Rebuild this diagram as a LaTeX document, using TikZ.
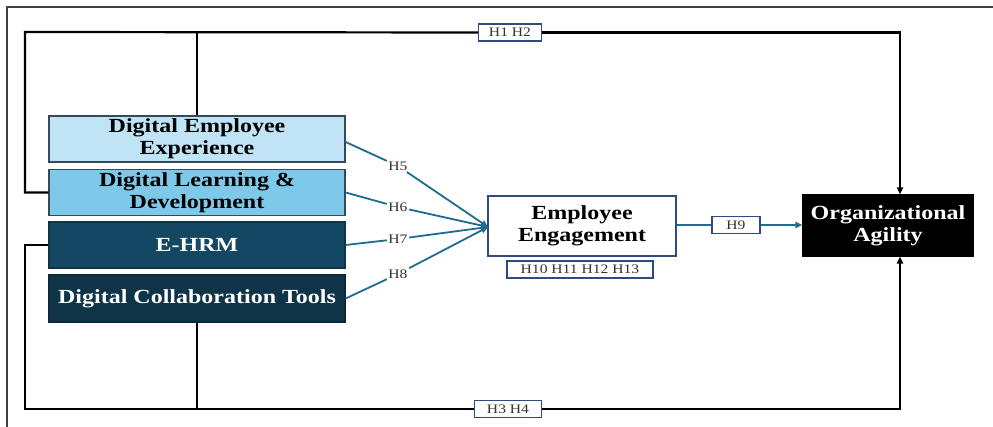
\documentclass[tikz,border=0pt]{standalone}
\usepackage{fontspec}
\setmainfont{Liberation Serif}[FakeStretch=1.2]
\usetikzlibrary{arrows.meta}
\definecolor{paleblue}{HTML}{C0E4F5}
\definecolor{skyblue}{HTML}{7EC9EA}
\definecolor{deepteal}{HTML}{144862}
\definecolor{nightblue}{HTML}{0F3347}
\definecolor{edgegrey}{HTML}{34495A}
\definecolor{navyedge}{HTML}{2F4A7C}
\definecolor{linkteal}{HTML}{1E6C8E}
\definecolor{tagtext}{HTML}{333333}
\tikzset{
  construct/.style={draw=edgegrey, line width=1.2pt, minimum width=296pt,
    minimum height=46pt, inner sep=0pt, align=center,
    font=\fontsize{20}{22}\selectfont\bfseries},
  tagbox/.style={draw=navyedge, line width=1.3pt, fill=white, inner sep=0pt,
    minimum height=17pt, text=tagtext, font=\fontsize{13}{13}\selectfont},
  pathtag/.style={fill=white, inner sep=1.5pt, text=tagtext,
    font=\fontsize{13}{13}\selectfont},
  direct/.style={line width=2.2pt, black},
  directarrow/.style={direct, -{Triangle[length=7pt,width=6pt]}},
  mediate/.style={line width=1.8pt, linkteal, -{Triangle[length=7pt,width=6pt]}},
  mediateplain/.style={line width=1.8pt, linkteal},
}
\begin{document}
\begin{tikzpicture}[x=1pt, y=-1pt]
\useasboundingbox (0,0) rectangle (993,427);
% outer frame
\draw[line width=1.3pt, black!75] (7,427) -- (7,7) -- (993,7);

% constructs
\node[construct, fill=paleblue] (dee) at (197,139) {Digital Employee\\Experience};
\node[construct, fill=skyblue] (dld) at (197,192.5) {Digital Learning \&\\Development};
\node[construct, fill=deepteal, draw=nightblue, text=white] (ehrm) at (197,245) {E-HRM};
\node[construct, fill=nightblue, draw=nightblue!80!black, text=white, minimum height=47pt] (dct) at (197,298.5) {Digital Collaboration Tools};
\node[construct, fill=white, draw=navyedge, line width=1.5pt, minimum width=188pt, minimum height=60pt] (ee) at (582,226) {Employee\\Engagement};
\node[construct, fill=black, draw=black, text=white, minimum width=170pt, minimum height=61pt] (oa) at (888,225.5) {Organizational\\Agility};

% hypothesis tags
\node[tagbox, minimum width=63pt] (h12) at (510,32.5) {H1 H2};
\node[tagbox, minimum width=67pt] (h34) at (508,409) {H3 H4};
\node[tagbox, minimum width=146pt] (h1013) at (580,269.5) {H10 H11 H12 H13};
\node[tagbox, minimum width=48pt] (h9) at (736,225) {H9};
\node[pathtag] (h5) at (398,166) {H5};
\node[pathtag] (h6) at (398,207) {H6};
\node[pathtag] (h7) at (398,239) {H7};
\node[pathtag] (h8) at (398,274) {H8};

% corner points of the direct-effect paths
\coordinate (tl) at (25,32);
\coordinate (tm) at (197,32);
\coordinate (tr) at (900,32);
\coordinate (bl) at (25,409);
\coordinate (bm) at (197,409);
\coordinate (br) at (900,409);

% direct effects (H1--H4)
\draw[direct] (dld.west) -| (tl) -- (h12.west);
\draw[direct] (dee.north) -- (tm);
\draw[directarrow] (h12.east) -| (tr |- oa.north);
\draw[direct] (ehrm.west) -| (bl) -- (h34.west);
\draw[direct] (dct.south) -- (bm);
\draw[directarrow] (h34.east) -| (br |- oa.south);

% paths to employee engagement (H5--H8)
\coordinate (eein) at (488,227);
\draw[mediateplain] (dee.east |- 0,142) -- (h5);
\draw[mediate] (h5) -- (eein);
\draw[mediateplain] (dld.east) -- (h6);
\draw[mediate] (h6) -- (eein);
\draw[mediateplain] (ehrm.east) -- (h7);
\draw[mediate] (h7) -- (eein);
\draw[mediateplain] (dct.east) -- (h8);
\draw[mediate] (h8) -- (eein);

% engagement to agility (H9)
\draw[mediateplain] (ee.east |- h9) -- (h9.west);
\draw[mediate] (h9.east) -- (oa.west |- h9);
\end{tikzpicture}
\end{document}
